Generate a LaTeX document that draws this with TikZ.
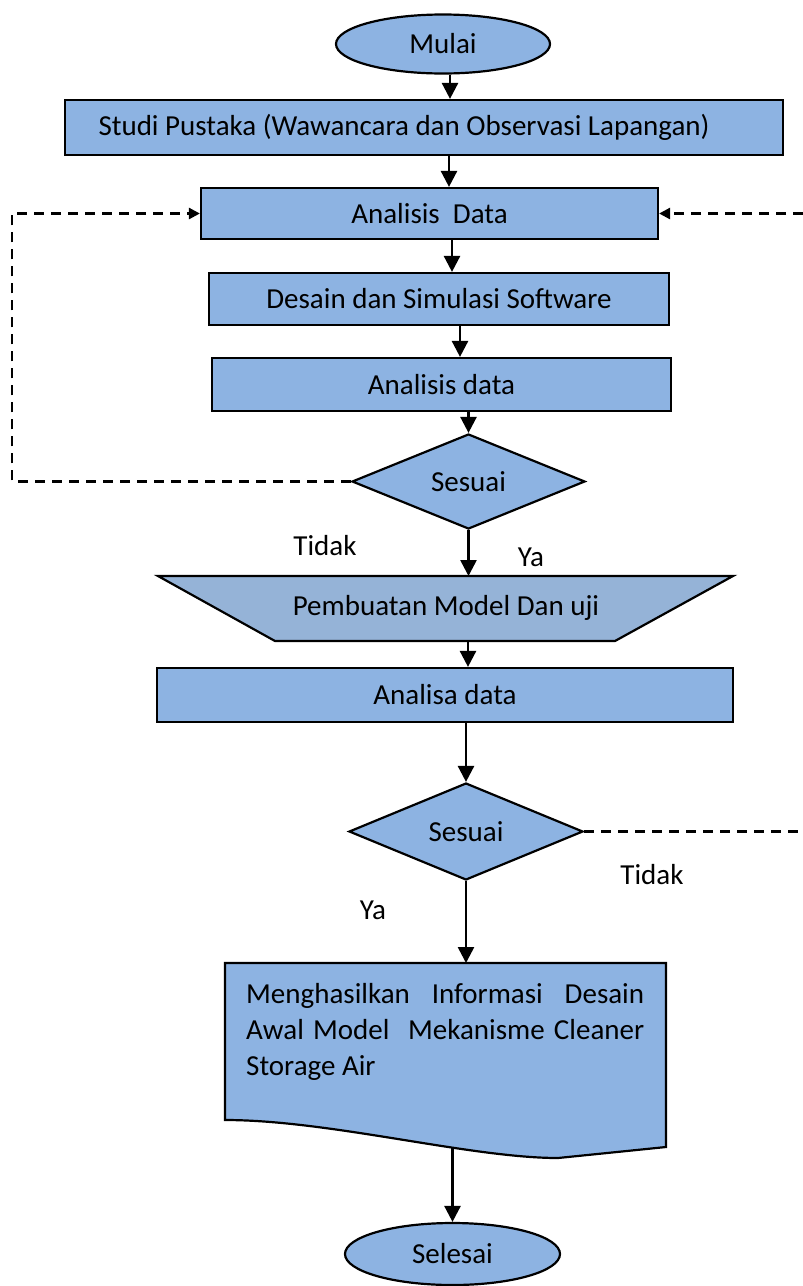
\documentclass[tikz,border=0pt]{standalone}
\usepackage{fontspec}
\setmainfont{Carlito}
\usetikzlibrary{arrows.meta, positioning, shapes.geometric, calc}
\definecolor{biru}{HTML}{8DB3E2}
\definecolor{birukelabu}{HTML}{95B3D7}

\begin{document}
\begin{tikzpicture}[x=1pt, y=-1pt, font=\fontsize{29}{36}\selectfont,
    proses/.style={draw, rectangle, fill=biru, line width=2.2pt, inner sep=0pt},
    terminal/.style={draw, ellipse, fill=biru, line width=2.2pt, inner sep=0pt},
    keputusan/.style={draw, diamond, fill=biru, line width=2.2pt, inner sep=0pt},
    alur/.style={-{Triangle[length=16pt, width=16pt]}, line width=2.6pt},
    putus/.style={dash pattern=on 10pt off 7pt, line width=2.6pt},
    putuspanah/.style={putus, -{Triangle[length=11pt, width=11pt]}}]
		\useasboundingbox (0,0) rectangle (803,1286);
		\node[terminal, minimum width=214, minimum height=59] (mulai) at (443,44) {Mulai};
		\node[proses, minimum width=718, minimum height=55] (studi) at (424,127.5) {Studi Pustaka (Wawancara dan Observasi Lapangan)\hspace*{40pt}};
		\node[proses, minimum width=457, minimum height=51] (ad) at (429.5,213.5) {Analisis\ \ Data};
		\node[proses, minimum width=460, minimum height=52] (desain) at (439,299) {Desain dan Simulasi Software};
		\node[proses, minimum width=459, minimum height=53] (anal) at (441.5,384.5) {Analisis data};
		\node[keputusan, minimum width=233, minimum height=83] (sesuai1) at (468.5,481.5) {Sesuai};
		% trapesium pembuatan model
		\draw[line width=2.2pt, fill=birukelabu] (158,576) -- (733,576) -- (615,641) -- (275,641) -- cycle;
		\node (buat) at (446,608) {Pembuatan Model Dan uji};
		\coordinate (buatatas) at (468.5,576);
		\coordinate (buatbawah) at (468,641);
		\node[proses, minimum width=576, minimum height=54] (analisa) at (445,695) {Analisa data};
		\node[keputusan, minimum width=234, minimum height=97] (sesuai2) at (466,831.5) {Sesuai};
		% dokumen hasil
		\draw[line width=2.2pt, fill=biru] (225,963) -- (666,963) -- (666,1147) -- (558,1158)
			.. controls (470,1158) and (330,1120) .. (225,1120) -- cycle;
		\node[anchor=north west, inner sep=0pt, align=left] (hasil) at (246,983)
			{\makebox[398pt][s]{Menghasilkan Informasi Desain}\\
			 \makebox[398pt][s]{Awal Model\ \ Mekanisme Cleaner}\\
			 Storage Air};
		\coordinate (hasilatas) at (466,963);
		\coordinate (hasilbawah) at (452.5,1148);
		\node[terminal, minimum width=215, minimum height=62] (selesai) at (452.5,1254) {Selesai};
		% label cabang
		\node (tidak1) at (325,546) {Tidak};
		\node (ya1) at (531,557) {Ya};
		\node (tidak2) at (652,875) {Tidak};
		\node (ya2) at (373,910) {Ya};
		% alur utama
		\draw[alur] (mulai.south -| 450,0) -- (studi.north -| 450,0);
		\draw[alur] (studi.south -| 449,0) -- (ad.north -| 449,0);
		\draw[alur] (ad.south -| 452,0) -- (desain.north -| 452,0);
		\draw[alur] (desain.south -| 460,0) -- (anal.north -| 460,0);
		\draw[alur] (anal.south -| sesuai1.north) -- (sesuai1.north);
		\draw[alur] (sesuai1.south) -- (buatatas);
		\draw[alur] (buatbawah) -- (analisa.north -| buatbawah);
		\draw[alur] (analisa.south -| sesuai2.north) -- (sesuai2.north);
		\draw[alur] (sesuai2.south) -- (hasilatas);
		\draw[alur] (hasilbawah) -- (selesai.north);
		% alur kembali (putus-putus)
		\coordinate (kiri) at (12,0);
		\coordinate (kanan) at (803,0);
		\draw[putuspanah] (sesuai1.west) -| (kiri |- ad.west) -- (ad.west);
		\draw[putus] (sesuai2.east) -- (sesuai2.east -| kanan);
		\draw[putuspanah] (ad.east -| kanan) -- (ad.east);
	\end{tikzpicture}
\end{document}
